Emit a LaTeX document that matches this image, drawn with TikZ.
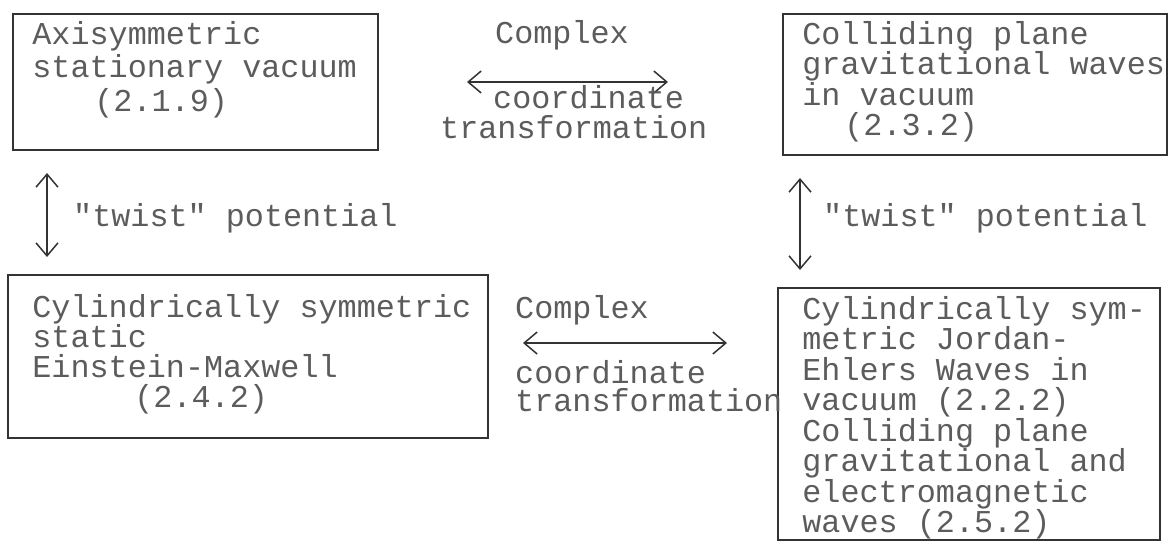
\documentclass[tikz,border=0pt]{standalone}
\usepackage{fontspec}
\setmonofont{Liberation Mono}
\usetikzlibrary{positioning, arrows.meta}
\definecolor{typeink}{gray}{0.36}
\definecolor{penink}{gray}{0.2}
\tikzset{
box/.style={draw=penink, line width=1.6pt, rectangle}, % the hand drawn frames
boxtext/.style={inner sep=0pt, align=left, text=typeink, font=\ttfamily\fontsize{31.8}{30.5}\selectfont},
lbl/.style={inner sep=0pt, anchor=west, text=typeink, font=\ttfamily\fontsize{31.8}{30.5}\selectfont},
link/.style={<->, draw=penink, line width=1.5pt}, % two way arrows
>={Straight Barb[length=13pt, width=22pt]},
}

\begin{document}
\begin{tikzpicture}[x=1pt, y=-1pt]
  \useasboundingbox (0,0) rectangle (1175,542);

  % frames
  \node[box, minimum width=365pt, minimum height=136pt] (asv) at (195.5,82) {};
  \node[box, minimum width=384pt, minimum height=141pt] (cpw) at (975,84.5) {};
  \node[box, minimum width=480pt, minimum height=163pt] (cse) at (248,356.5) {};
  \node[box, minimum width=382pt, minimum height=252pt] (cje) at (969,414) {};

  % typed text in the frames
  \node[boxtext, font=\ttfamily\fontsize{31.8}{33.5}\selectfont, below right=8pt and 20pt of asv.north west] (asvtext)
    {Axisymmetric\\stationary vacuum\\\hspace{62pt}(2.1.9)};
  \node[boxtext, below right=8pt and 20pt of cpw.north west] (cpwtext)
    {Colliding plane\\gravitational waves\\in vacuum\\\hspace{42pt}(2.3.2)};
  \node[boxtext, font=\ttfamily\fontsize{31.8}{30}\selectfont, below right=20pt and 25pt of cse.north west] (csetext)
    {Cylindrically symmetric\\static\\Einstein-Maxwell\\\hspace{102pt}(2.4.2)};
  \node[boxtext, below right=9pt and 25pt of cje.north west] (cjetext)
    {Cylindrically sym-\\metric Jordan-\\Ehlers Waves in\\vacuum (2.2.2)\\Colliding plane\\gravitational and\\electromagnetic\\waves (2.5.2)};

  % arrow ends
  \coordinate (topl) at (467,82);
  \coordinate (topr) at (668,82);
  \coordinate (botl) at (523,343);
  \coordinate (botr) at (727,343);
  \coordinate (lefth) at (47,173);
  \coordinate (leftl) at (47,257);
  \coordinate (righth) at (800,178);
  \coordinate (rightl) at (800,270);

  \draw[link] (topl) -- (topr);
  \draw[link] (botl) -- (botr);
  \draw[link] (lefth) -- (leftl);
  \draw[link] (righth) -- (rightl);

  % labels
  \node[lbl] (cxtop) at (495,35) {Complex};
  \node[lbl] (cotop) at (493,97) {coordinate};
  \node[lbl] (trtop) at (440,127) {transformation};
  \node[lbl] (cxbot) at (515,310) {Complex};
  \node[lbl] (cobot) at (515,372) {coordinate};
  \node[lbl] (trbot) at (515,400) {transformation};
  \node[lbl] (twleft) at (73,218) {"twist" potential};
  \node[lbl] (twright) at (823,218) {"twist" potential};
\end{tikzpicture}
\end{document}
